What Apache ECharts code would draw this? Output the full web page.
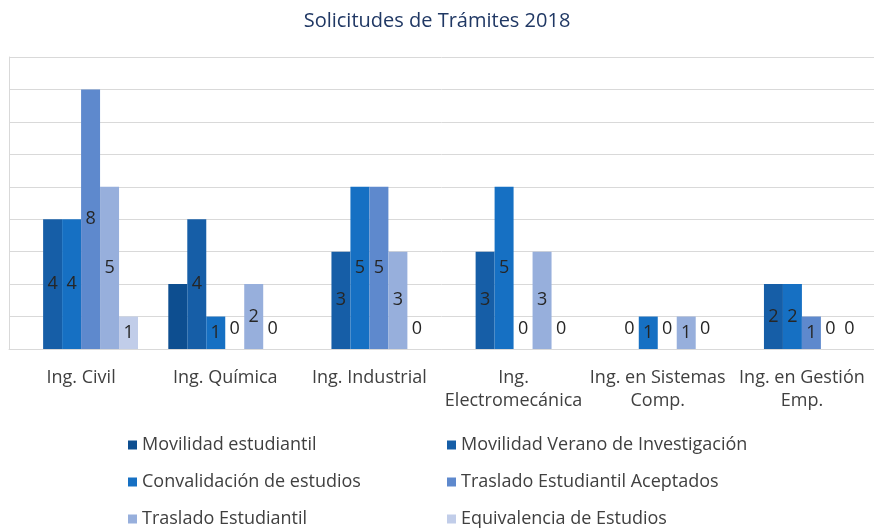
<!DOCTYPE html>
<html>
<head>
<meta charset="utf-8">
<script src="https://cdn.jsdelivr.net/npm/echarts@6/dist/echarts.min.js"></script>
<style>
  html, body { margin: 0; padding: 0; background: #fff; }
  #chart { width: 874px; height: 529px; }
</style>
</head>
<body>
<div id="chart"></div>
<script>
// Carreras (categorías del eje X)
const carreras = ['Ing. Civil', 'Ing. Química', 'Ing. Industrial', 'Ing.\nElectromecánica', 'Ing. en Sistemas\nComp.', 'Ing. en Gestión\nEmp.'];

// Valores por tipo de trámite
const movilidadEstudiantil = [null, 2, null, null, null, null];
const movilidadVerano = [4, 4, 3, 3, 0, 2];
const convalidacion = [4, 1, 5, 5, 1, 2];
const trasladoAceptados = [8, 0, 5, 0, 0, 1];
const trasladoEstudiantil = [5, 2, 3, 3, 1, 0];
const equivalencia = [1, 0, 0, 0, 0, 0];

const serieNombres = [
    'Movilidad estudiantil',
    'Movilidad Verano de Investigación',
    'Convalidación de estudios',
    'Traslado Estudiantil Aceptados',
    'Traslado Estudiantil',
    'Equivalencia de Estudios'
];
const serieDatos = [movilidadEstudiantil, movilidadVerano, convalidacion, trasladoAceptados, trasladoEstudiantil, equivalencia];
const colores = ['#0D4E90', '#165EA7', '#1670C3', '#5E89CD', '#97AFDC', '#C1CDE9'];

const chart = echarts.init(document.getElementById('chart'));
const fuente = '"Open Sans", "Noto Sans", sans-serif';

const series = serieNombres.map((nombre, i) => ({
    name: nombre,
    type: 'bar',
    barGap: 0,
    barCategoryGap: '21%',
    itemStyle: { color: colores[i] },
    label: {
        show: i !== 0,
        position: 'inside',
        fontFamily: fuente,
        fontSize: 18,
        color: '#262626'
    },
    // los ceros se rotulan justo encima de la línea base
    data: serieDatos[i].map(v => v === 0 ? { value: 0, label: { position: 'top', distance: 11 } } : v)
}));

const estiloLeyenda = {
    fontFamily: fuente,
    fontSize: 18,
    color: '#404040',
    lineHeight: 18
};

const option = {
    animation: false,
    title: {
        text: 'Solicitudes de Trámites 2018',
        left: 'center',
        top: 6,
        textStyle: {
            fontFamily: fuente,
            fontSize: 20,
            fontWeight: 'normal',
            color: '#203864'
        }
    },
    legend: [{
        data: [serieNombres[0], serieNombres[2], serieNombres[4]],
        orient: 'vertical',
        left: 128,
        top: 436,
        padding: 0,
        itemWidth: 9,
        itemHeight: 9,
        itemGap: 19,
        icon: 'rect',
        textStyle: estiloLeyenda
    }, {
        data: [serieNombres[1], serieNombres[3], serieNombres[5]],
        orient: 'vertical',
        left: 447,
        top: 436,
        padding: 0,
        itemWidth: 9,
        itemHeight: 9,
        itemGap: 19,
        icon: 'rect',
        textStyle: estiloLeyenda
    }],
    grid: {
        left: 9,
        right: -2,
        top: 57,
        bottom: 180
    },
    xAxis: {
        type: 'category',
        data: carreras,
        axisTick: { show: false },
        axisLine: { lineStyle: { color: '#D9D9D9', width: 1 } },
        axisLabel: {
            fontFamily: fuente,
            fontSize: 18,
            color: '#404040',
            lineHeight: 23,
            margin: 17,
            interval: 0
        }
    },
    yAxis: {
        type: 'value',
        min: 0,
        max: 9,
        interval: 1,
        axisLabel: { show: false },
        axisTick: { show: false },
        axisLine: { show: true, lineStyle: { color: '#D9D9D9', width: 1 } },
        splitLine: { lineStyle: { color: '#D9D9D9', width: 1 } }
    },
    series: series
};

chart.setOption(option);
</script>
</body>
</html>
